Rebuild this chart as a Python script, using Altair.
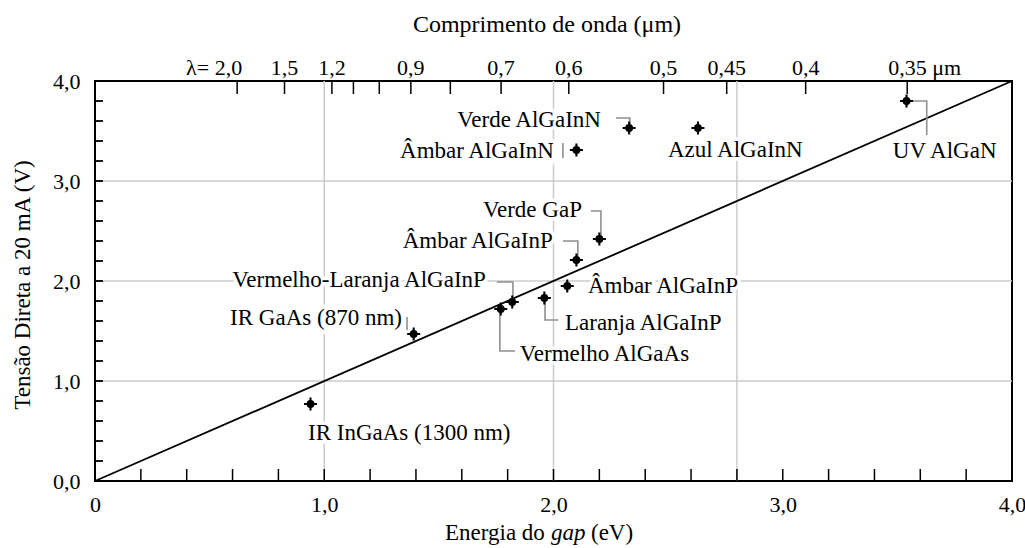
import altair as alt
import pandas as pd

FONT = "Liberation Serif"

# LED measurements: band-gap energy (eV) and forward voltage at 20 mA (V)
led_names = ["IR InGaAs (1300 nm)", "IR GaAs (870 nm)", "Vermelho AlGaAs",
             "Vermelho-Laranja AlGaInP", "Laranja AlGaInP", "Âmbar AlGaInP 1",
             "Âmbar AlGaInP 2", "Verde GaP", "Âmbar AlGaInN", "Verde AlGaInN",
             "Azul AlGaInN", "UV AlGaN"]
gap_ev = [0.94, 1.39, 1.77, 1.82, 1.96, 2.06, 2.10, 2.20, 2.10, 2.33, 2.63, 3.54]
volt = [0.77, 1.47, 1.72, 1.79, 1.83, 1.95, 2.21, 2.42, 3.31, 3.53, 3.53, 3.80]

# annotation text anchored in data units (right-aligned and left-aligned groups)
right_text = ["Verde AlGaInN", "Âmbar AlGaInN", "Verde GaP", "Âmbar AlGaInP",
              "Vermelho-Laranja AlGaInP", "IR GaAs (870 nm)"]
right_e = [2.207, 2.002, 2.124, 1.997, 1.705, 1.339]
right_v = [3.54, 3.23, 2.64, 2.33, 1.94, 1.56]

left_text = ["Azul AlGaInN", "UV AlGaN", "Âmbar AlGaInP", "Laranja AlGaInP",
             "Vermelho AlGaAs", "IR InGaAs (1300 nm)"]
left_e = [2.499, 3.48, 2.150, 2.050, 1.853, 0.929]
left_v = [3.24, 3.23, 1.88, 1.51, 1.20, 0.41]

# gray connectors between labels and points
leader_id = [1, 1, 1, 2, 2, 3, 3, 3, 4, 4, 4, 5, 5, 5, 6, 6, 6, 7, 7, 7, 8, 8, 9, 9, 9]
leader_e = [2.272, 2.333, 2.333, 2.041, 2.041, 2.163, 2.207, 2.207,
            2.041, 2.106, 2.106, 1.753, 1.823, 1.823, 1.963, 1.963, 2.02,
            1.766, 1.766, 1.832, 1.361, 1.361, 3.537, 3.628, 3.628]
leader_v = [3.63, 3.63, 3.53, 3.38, 3.23, 2.70, 2.70, 2.42,
            2.40, 2.40, 2.21, 1.99, 1.99, 1.79, 1.83, 1.61, 1.61,
            1.72, 1.30, 1.30, 1.64, 1.51, 3.80, 3.80, 3.46]

# secondary (wavelength) scale: lambda in micrometres
wl_ticks = [2.0, 1.5, 1.2, 1.1, 1.0, 0.9, 0.8, 0.7, 0.6, 0.5, 0.45, 0.4, 0.35]
wl_labels = ["λ= 2,0", "1,5", "1,2", "", "", "0,9", "", "0,7", "0,6", "0,5",
             "0,45", "0,4", "0,35 μm"]

minor_steps = [0.2, 0.4, 0.6, 0.8, 1.0, 1.2, 1.4, 1.6, 1.8, 2.0, 2.2, 2.4, 2.6,
               2.8, 3.0, 3.2, 3.4, 3.6, 3.8]
grid_v = [1.0, 2.0, 3.0]
grid_e = [1.0, 2.0, 2.8]
diag = [0.0, 4.0]

W, H = 917, 400
xs = alt.Scale(domain=[0, 4], nice=False, zero=True)
ys = alt.Scale(domain=[0, 4], nice=False, zero=True)

pts = pd.DataFrame({"led": led_names, "e": gap_ev, "v": volt})
rdf = pd.DataFrame({"t": right_text, "e": right_e, "v": right_v})
ldf = pd.DataFrame({"t": left_text, "e": left_e, "v": left_v})
lead = pd.DataFrame({"id": leader_id, "e": leader_e, "v": leader_v,
                     "k": list(range(len(leader_id)))})
wl = pd.DataFrame({"wl": wl_ticks, "lab": wl_labels})
minor = pd.DataFrame({"s": minor_steps})
gv = pd.DataFrame({"v": grid_v})
ge = pd.DataFrame({"e": grid_e})
dg = pd.DataFrame({"e": diag, "v": diag})

# shared axes (labels only; ticks are drawn inward as rules)
x_axis = alt.Axis(
    values=[0, 1, 2, 3, 4], ticks=False, domain=False, grid=False,
    labelExpr="datum.value == 0 ? '0' : replace(format(datum.value, '.1f'), '.', ',')",
    labelFont=FONT, labelFontSize=22, labelColor="black", labelPadding=13,
    labelFlush=False, title=None)
y_axis = alt.Axis(
    values=[0, 1, 2, 3, 4], ticks=False, domain=False, grid=False,
    labelExpr="replace(format(datum.value, '.1f'), '.', ',')",
    labelFont=FONT, labelFontSize=22, labelColor="black", labelPadding=15,
    labelFlush=False, title=None)


def X(f="e"):
    return alt.X(f"{f}:Q", scale=xs, axis=x_axis)


def Y(f="v"):
    return alt.Y(f"{f}:Q", scale=ys, axis=y_axis)


grid_h = alt.Chart(gv).mark_rule(color="#cccccc", strokeWidth=1.5).encode(y=Y())
grid_x = alt.Chart(ge).mark_rule(color="#cccccc", strokeWidth=1.5).encode(x=X())


def labels(df, align, halo):
    if halo:
        mk = alt.Chart(df).mark_text(align=align, baseline="alphabetic", font=FONT,
                                     fontSize=23, fill="white", stroke="white",
                                     strokeWidth=7)
    else:
        mk = alt.Chart(df).mark_text(align=align, baseline="alphabetic", font=FONT,
                                     fontSize=23, color="black")
    return mk.encode(x=X(), y=Y(), text="t:N")


halo = labels(rdf, "right", True) + labels(ldf, "left", True)
texts = labels(rdf, "right", False) + labels(ldf, "left", False)

diag_line = alt.Chart(dg).mark_line(color="black", strokeWidth=1.8).encode(x=X(), y=Y())

leaders = alt.Chart(lead).mark_line(color="#8f8f8f", strokeWidth=1.6).encode(
    x=X(), y=Y(), detail="id:N", order="k:Q")

# inward ticks on the frame
ticks_bottom = alt.Chart(minor).mark_rule(color="black", strokeWidth=1.5).encode(
    x=X("s"), y=alt.value(H), y2=alt.value(H - 12))
ticks_left = alt.Chart(minor).mark_rule(color="black", strokeWidth=1.8).encode(
    y=Y("s"), x=alt.value(0), x2=alt.value(8))
wl_base = alt.Chart(wl).transform_calculate(e="1.24 / datum.wl")
ticks_top = wl_base.mark_rule(color="black", strokeWidth=1.5).encode(
    x=X(), y=alt.value(0), y2=alt.value(13))

top_mid = wl_base.transform_filter("datum.wl < 1.9 && datum.wl > 0.36").mark_text(
    align="center", baseline="alphabetic", font=FONT, fontSize=22, color="black"
).encode(x=X(), y=alt.value(-6), text="lab:N")
top_first = wl_base.transform_filter("datum.wl > 1.9").mark_text(
    align="right", baseline="alphabetic", font=FONT, fontSize=22, color="black",
    dx=5).encode(x=X(), y=alt.value(-6), text="lab:N")
top_last = wl_base.transform_filter("datum.wl < 0.36").mark_text(
    align="left", baseline="alphabetic", font=FONT, fontSize=22, color="black",
    dx=-19).encode(x=X(), y=alt.value(-6), text="lab:N")

# titles
title_df = pd.DataFrame({"t": ["Comprimento de onda (μm)"]})
top_title = alt.Chart(title_df).mark_text(
    align="center", baseline="alphabetic", font=FONT, fontSize=24, color="black"
).encode(x=alt.value(452), y=alt.value(-49), text="t:N")

ylab_df = pd.DataFrame({"t": ["Tensão Direta a 20 mA (V)"]})
y_title = alt.Chart(ylab_df).mark_text(
    align="center", baseline="middle", font=FONT, fontSize=23, color="black", angle=270
).encode(x=alt.value(-72), y=alt.value(204), text="t:N")

xt1 = alt.Chart(pd.DataFrame({"t": ["Energia do"]})).mark_text(
    align="left", baseline="alphabetic", font=FONT, fontSize=23, color="black"
).encode(x=alt.value(350), y=alt.value(459), text="t:N")
xt2 = alt.Chart(pd.DataFrame({"t": ["gap"]})).mark_text(
    align="left", baseline="alphabetic", font=FONT, fontSize=23, fontStyle="italic",
    color="black").encode(x=alt.value(456), y=alt.value(459), text="t:N")
xt3 = alt.Chart(pd.DataFrame({"t": ["(eV)"]})).mark_text(
    align="left", baseline="alphabetic", font=FONT, fontSize=23, color="black"
).encode(x=alt.value(496), y=alt.value(459), text="t:N")

# markers: filled dot with a thin plus
dots = alt.Chart(pts).mark_point(shape="circle", filled=True, size=62, color="black",
                                 opacity=1).encode(x=X(), y=Y())
plus = alt.Chart(pts).mark_point(
    shape="M-1,-0.16L1,-0.16L1,0.16L-1,0.16Z M-0.16,-1L0.16,-1L0.16,1L-0.16,1Z",
    filled=True, size=170, color="black", opacity=1).encode(x=X(), y=Y())

chart = alt.layer(
    grid_h, grid_x, halo, diag_line, leaders, ticks_bottom, ticks_left,
    ticks_top, top_mid, top_first, top_last, top_title, y_title, xt1, xt2, xt3,
    texts, dots, plus
).properties(
    width=W, height=H,
    autosize=alt.AutoSizeParams(type="none"),
    padding={"left": 95, "top": 81, "right": 13, "bottom": 67},
    background="white",
).configure_view(stroke="black", strokeWidth=2)

chart.save("out.html", embed_options={"renderer": "svg", "actions": False})
